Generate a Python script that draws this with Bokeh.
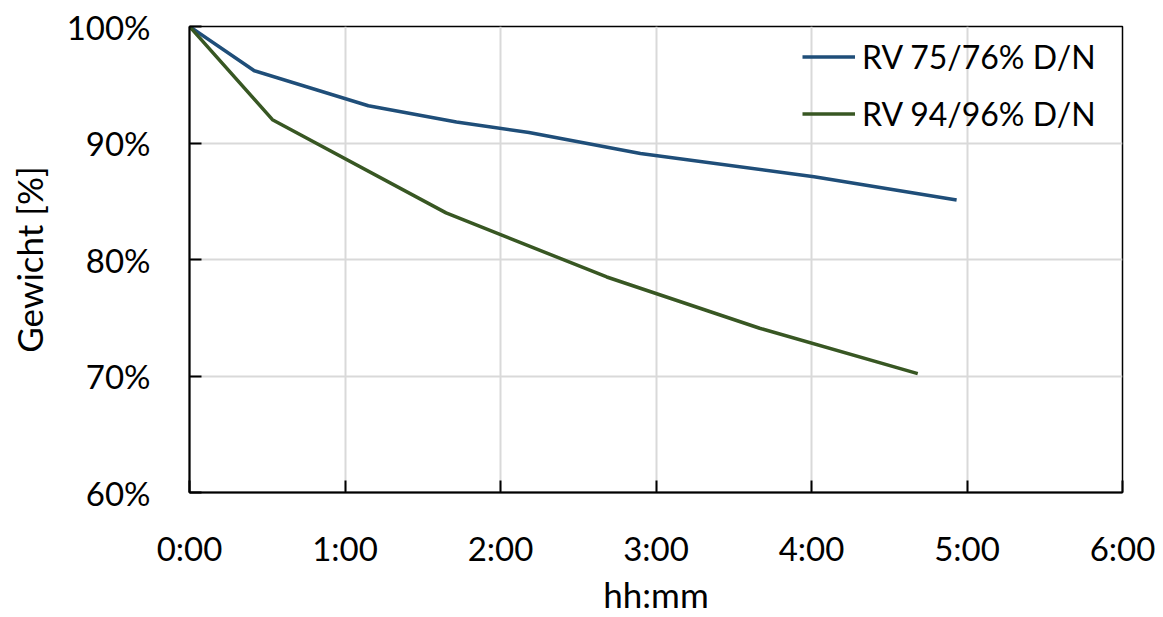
from bokeh.plotting import figure
from bokeh.models import Range1d, FixedTicker, Legend, LegendItem
from bokeh.embed import file_html
from bokeh.resources import INLINE

# Data (time as h:mm, weight in %)
times_rv75 = ["0:00", "0:25", "1:09", "1:43", "2:11", "2:54", "4:01", "4:56"]
weight_rv75 = [100.0, 96.2, 93.2, 91.8, 90.9, 89.1, 87.1, 85.1]

times_rv94 = ["0:00", "0:32", "1:39", "2:41", "3:40", "4:41"]
weight_rv94 = [100.0, 92.0, 84.0, 78.5, 74.1, 70.2]

x_ticks = [0, 1, 2, 3, 4, 5, 6]
x_tick_labels = ["0:00", "1:00", "2:00", "3:00", "4:00", "5:00", "6:00"]
y_ticks = [60, 70, 80, 90, 100]
y_tick_labels = ["60%", "70%", "80%", "90%", "100%"]

series_names = ["RV 75/76% D/N", "RV 94/96% D/N"]
x_title = "hh:mm"
y_title = "Gewicht [%]"


def to_hours(t):
    h, m = t.split(":")
    return int(h) + int(m) / 60.0


FONT = "Lato"
FS = "33px"
FS_LEGEND = "32px"
FS_TITLE = "35px"

FRAME_L, FRAME_R, FRAME_T, FRAME_B = 189, 1122, 26, 493

p = figure(width=1163, height=617, output_backend="svg", toolbar_location=None,
           x_range=Range1d(0, 6), y_range=Range1d(60, 100))
p.min_border_left = FRAME_L
p.min_border_right = 1163 - FRAME_R
p.min_border_top = FRAME_T
p.min_border_bottom = 617 - FRAME_B
p.background_fill_color = "white"
p.border_fill_color = "white"
p.outline_line_color = "black"
p.outline_line_width = 1.5

r1 = p.line([to_hours(t) for t in times_rv75], weight_rv75, line_color="#1F4E79", line_width=3.5)
r2 = p.line([to_hours(t) for t in times_rv94], weight_rv94, line_color="#385723", line_width=3.5)

p.xaxis.ticker = FixedTicker(ticks=x_ticks)
p.xaxis.major_label_overrides = {t: l for t, l in zip(x_ticks, x_tick_labels)}
p.yaxis.ticker = FixedTicker(ticks=y_ticks)
p.yaxis.major_label_overrides = {t: l for t, l in zip(y_ticks, y_tick_labels)}

p.xgrid.ticker = FixedTicker(ticks=x_ticks)
p.ygrid.ticker = FixedTicker(ticks=y_ticks)
for g in (p.xgrid, p.ygrid):
    g.grid_line_color = "#d9d9d9"
    g.grid_line_width = 2

for ax in (p.xaxis, p.yaxis):
    ax.axis_line_color = "black"
    ax.axis_line_width = 2
    ax.major_tick_line_color = "black"
    ax.major_tick_line_width = 2
    ax.major_tick_in = 12
    ax.major_tick_out = 0
    ax.minor_tick_line_color = None
    ax.major_label_text_font = FONT
    ax.major_label_text_font_size = FS
    ax.major_label_text_color = "black"
    ax.axis_label_text_font = FONT
    ax.axis_label_text_font_size = FS_TITLE
    ax.axis_label_text_font_style = "normal"
    ax.axis_label_text_color = "black"

p.xaxis.axis_label = x_title
p.yaxis.axis_label = y_title
p.xaxis.major_label_standoff = 35
p.yaxis.major_label_standoff = 39
p.xaxis.axis_label_standoff = 2
p.yaxis.axis_label_standoff = 14

legend = Legend(items=[LegendItem(label=series_names[0], renderers=[r1]),
                       LegendItem(label=series_names[1], renderers=[r2])],
                location=(613, 356))
legend.background_fill_alpha = 0
legend.border_line_alpha = 0
legend.padding = 0
legend.margin = 0
legend.glyph_width = 53
legend.glyph_height = 45
legend.spacing = 12
legend.label_standoff = 7
legend.label_text_font = FONT
legend.label_text_font_size = FS_LEGEND
legend.label_text_color = "black"
p.add_layout(legend)

open("out.html", "w").write(file_html(p, INLINE))
